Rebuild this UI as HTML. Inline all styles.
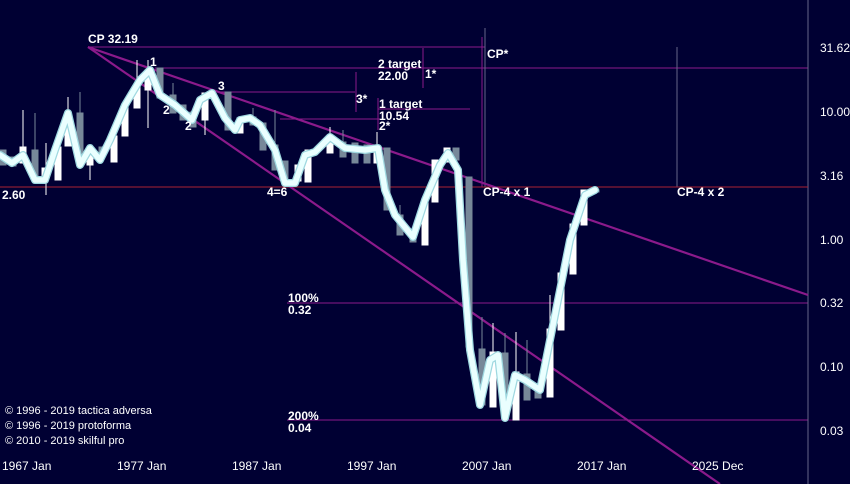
<!DOCTYPE html>
<html><head><meta charset="utf-8"><style>
body{margin:0;background:#000033;}
svg{display:block;font-family:"Liberation Sans",sans-serif;font-weight:bold;}
</style></head><body>
<svg width="850" height="484" viewBox="0 0 850 484">
<rect width="850" height="484" fill="#000033"/>
<g stroke="#8b1a8b" stroke-width="1" fill="none">
<line x1="88" y1="47" x2="485" y2="47"/>
<line x1="155" y1="68" x2="808" y2="68"/>
<line x1="220" y1="92" x2="355" y2="92"/>
<line x1="378" y1="109" x2="470" y2="109"/>
<line x1="280" y1="119" x2="380" y2="119"/>
<line x1="287" y1="303" x2="808" y2="303"/>
<line x1="287" y1="420" x2="808" y2="420"/>
<line x1="423" y1="48" x2="423" y2="88"/>
<line x1="356" y1="72" x2="356" y2="112"/>
<line x1="378" y1="98" x2="378" y2="130"/>
<line x1="482" y1="37" x2="482" y2="187"/>
</g>
<g stroke="#666688" stroke-width="1">
<line x1="485" y1="28" x2="485" y2="187"/>
<line x1="677" y1="47" x2="677" y2="187"/>
<line x1="808" y1="0" x2="808" y2="484"/>
</g>
<line x1="0" y1="187" x2="808" y2="187" stroke="#aa2233" stroke-width="1"/>
<g stroke="#8b1a8b" stroke-width="2.2">
<line x1="88" y1="47" x2="808" y2="295"/>
<line x1="88" y1="47" x2="720" y2="484"/>
</g>
<g>
<g fill="#778899" stroke="#778899">
<rect x="0" y="150" width="6" height="15"/>
<rect x="10" y="157" width="6" height="9"/>
<rect x="32" y="150" width="6" height="30"/><line x1="35" y1="113" x2="35" y2="150"/>
<rect x="77" y="113" width="6" height="52"/><line x1="80" y1="92" x2="80" y2="113"/>
<rect x="99" y="147" width="6" height="5"/>
<rect x="157" y="68" width="6" height="30"/>
<rect x="170" y="95" width="6" height="18"/><line x1="173" y1="83" x2="173" y2="95"/>
<rect x="180" y="105" width="6" height="15"/>
<rect x="190" y="112" width="6" height="15"/>
<rect x="225" y="92" width="6" height="38"/>
<rect x="250" y="117" width="6" height="8"/><line x1="253" y1="108" x2="253" y2="117"/>
<rect x="260" y="123" width="6" height="27"/>
<rect x="272" y="145" width="6" height="25"/><line x1="275" y1="110" x2="275" y2="145"/>
<rect x="282" y="161" width="6" height="22"/>
<rect x="340" y="142" width="6" height="15"/><line x1="343" y1="130" x2="343" y2="142"/>
<rect x="352" y="143" width="6" height="20"/>
<rect x="364" y="145" width="6" height="18"/>
<rect x="384" y="148" width="6" height="62"/>
<rect x="397" y="215" width="6" height="20"/><line x1="400" y1="205" x2="400" y2="215"/>
<rect x="410" y="230" width="6" height="12"/>
<rect x="453" y="148" width="6" height="12"/>
<rect x="466" y="177" width="6" height="170"/>
<rect x="479" y="349" width="6" height="56"/><line x1="482" y1="317" x2="482" y2="349"/>
<rect x="502" y="353" width="6" height="52"/><line x1="505" y1="333" x2="505" y2="353"/>
<rect x="524" y="374" width="6" height="26"/><line x1="527" y1="340" x2="527" y2="374"/>
<rect x="535" y="388" width="6" height="10"/>
<rect x="593" y="190" width="6" height="2"/>
</g>
<g fill="#ffffff" stroke="#ffffff">
<rect x="20" y="147" width="6" height="16"/><line x1="23" y1="110" x2="23" y2="147"/>
<rect x="42" y="168" width="6" height="12"/><line x1="46" y1="143" x2="46" y2="195"/>
<rect x="55" y="147" width="6" height="33"/>
<rect x="65" y="113" width="6" height="33"/><line x1="68" y1="97" x2="68" y2="113"/>
<rect x="87" y="148" width="6" height="17"/><line x1="90" y1="147" x2="90" y2="180"/>
<rect x="111" y="136" width="6" height="26"/>
<rect x="122" y="107" width="6" height="29"/>
<rect x="134" y="87" width="6" height="21"/><line x1="137" y1="60" x2="137" y2="87"/>
<rect x="145" y="70" width="6" height="20"/><line x1="148" y1="60" x2="148" y2="128"/>
<rect x="202" y="93" width="6" height="27"/><line x1="205" y1="120" x2="205" y2="135"/>
<rect x="237" y="118" width="6" height="15"/>
<rect x="295" y="165" width="6" height="16"/>
<rect x="305" y="150" width="6" height="32"/>
<rect x="327" y="143" width="6" height="10"/><line x1="330" y1="127" x2="330" y2="143"/>
<rect x="374" y="148" width="6" height="15"/><line x1="377" y1="132" x2="377" y2="148"/>
<rect x="422" y="200" width="6" height="45"/>
<rect x="432" y="160" width="6" height="42"/>
<rect x="444" y="148" width="6" height="14"/>
<rect x="490" y="352" width="6" height="55"/><line x1="493" y1="323" x2="493" y2="352"/>
<rect x="513" y="372" width="6" height="48"/><line x1="516" y1="332" x2="516" y2="372"/>
<rect x="547" y="329" width="6" height="68"/><line x1="550" y1="295" x2="550" y2="329"/>
<rect x="558" y="273" width="6" height="57"/>
<rect x="570" y="224" width="6" height="50"/>
<rect x="581" y="190" width="6" height="35"/>
</g>
</g>
<polyline fill="none" stroke="#9fd8e0" stroke-width="8" stroke-linejoin="round" stroke-linecap="round" points="0,155 12,163 23,155 35,180 45,180 55,150 68,113 80,165 90,148 100,160 110,140 125,105 140,80 150,70 160,95 175,105 192,120 200,100 212,93 225,118 235,130 240,120 250,118 260,125 275,150 285,183 295,183 305,155 315,152 330,137 345,148 365,150 378,148 385,190 395,215 413,237 425,200 440,165 448,153 458,170 463,260 470,350 480,405 490,360 498,355 505,418 515,375 525,380 540,390 552,330 560,290 570,240 585,195 595,190"/>
<polyline fill="none" stroke="#eaffff" stroke-width="5.5" stroke-linejoin="round" stroke-linecap="round" points="0,155 12,163 23,155 35,180 45,180 55,150 68,113 80,165 90,148 100,160 110,140 125,105 140,80 150,70 160,95 175,105 192,120 200,100 212,93 225,118 235,130 240,120 250,118 260,125 275,150 285,183 295,183 305,155 315,152 330,137 345,148 365,150 378,148 385,190 395,215 413,237 425,200 440,165 448,153 458,170 463,260 470,350 480,405 490,360 498,355 505,418 515,375 525,380 540,390 552,330 560,290 570,240 585,195 595,190"/>
<g fill="#ffffff" font-size="12">
<text x="88" y="43">CP 32.19</text>
<text x="150" y="66">1</text>
<text x="218" y="90">3</text>
<text x="163" y="114">2</text>
<text x="185" y="130">2</text>
<text x="378" y="68">2 target</text>
<text x="378" y="80">22.00</text>
<text x="425" y="78">1*</text>
<text x="356" y="103">3*</text>
<text x="379" y="108">1 target</text>
<text x="379" y="120">10.54</text>
<text x="379" y="130">2*</text>
<text x="487" y="58">CP*</text>
<text x="2" y="199">2.60</text>
<text x="267" y="196">4=6</text>
<text x="483" y="196">CP-4 x 1</text>
<text x="677" y="196">CP-4 x 2</text>
<text x="288" y="302">100%</text>
<text x="288" y="314">0.32</text>
<text x="288" y="420">200%</text>
<text x="288" y="432">0.04</text>
</g>
<g fill="#ffffff" font-size="11" font-weight="normal">
<text x="5" y="414">© 1996 - 2019 tactica adversa</text>
<text x="5" y="429">© 1996 - 2019 protoforma</text>
<text x="5" y="444">© 2010 - 2019 skilful pro</text>
</g>
<g fill="#ffffff" font-size="12" font-weight="normal">
<text x="820" y="52">31.62</text>
<text x="820" y="116">10.00</text>
<text x="820" y="180">3.16</text>
<text x="820" y="244">1.00</text>
<text x="820" y="307">0.32</text>
<text x="820" y="371">0.10</text>
<text x="820" y="435">0.03</text>
<text x="2" y="470">1967 Jan</text>
<text x="117" y="470">1977 Jan</text>
<text x="232" y="470">1987 Jan</text>
<text x="347" y="470">1997 Jan</text>
<text x="462" y="470">2007 Jan</text>
<text x="577" y="470">2017 Jan</text>
<text x="692" y="470">2025 Dec</text>
</g>
</svg>
</body></html>
